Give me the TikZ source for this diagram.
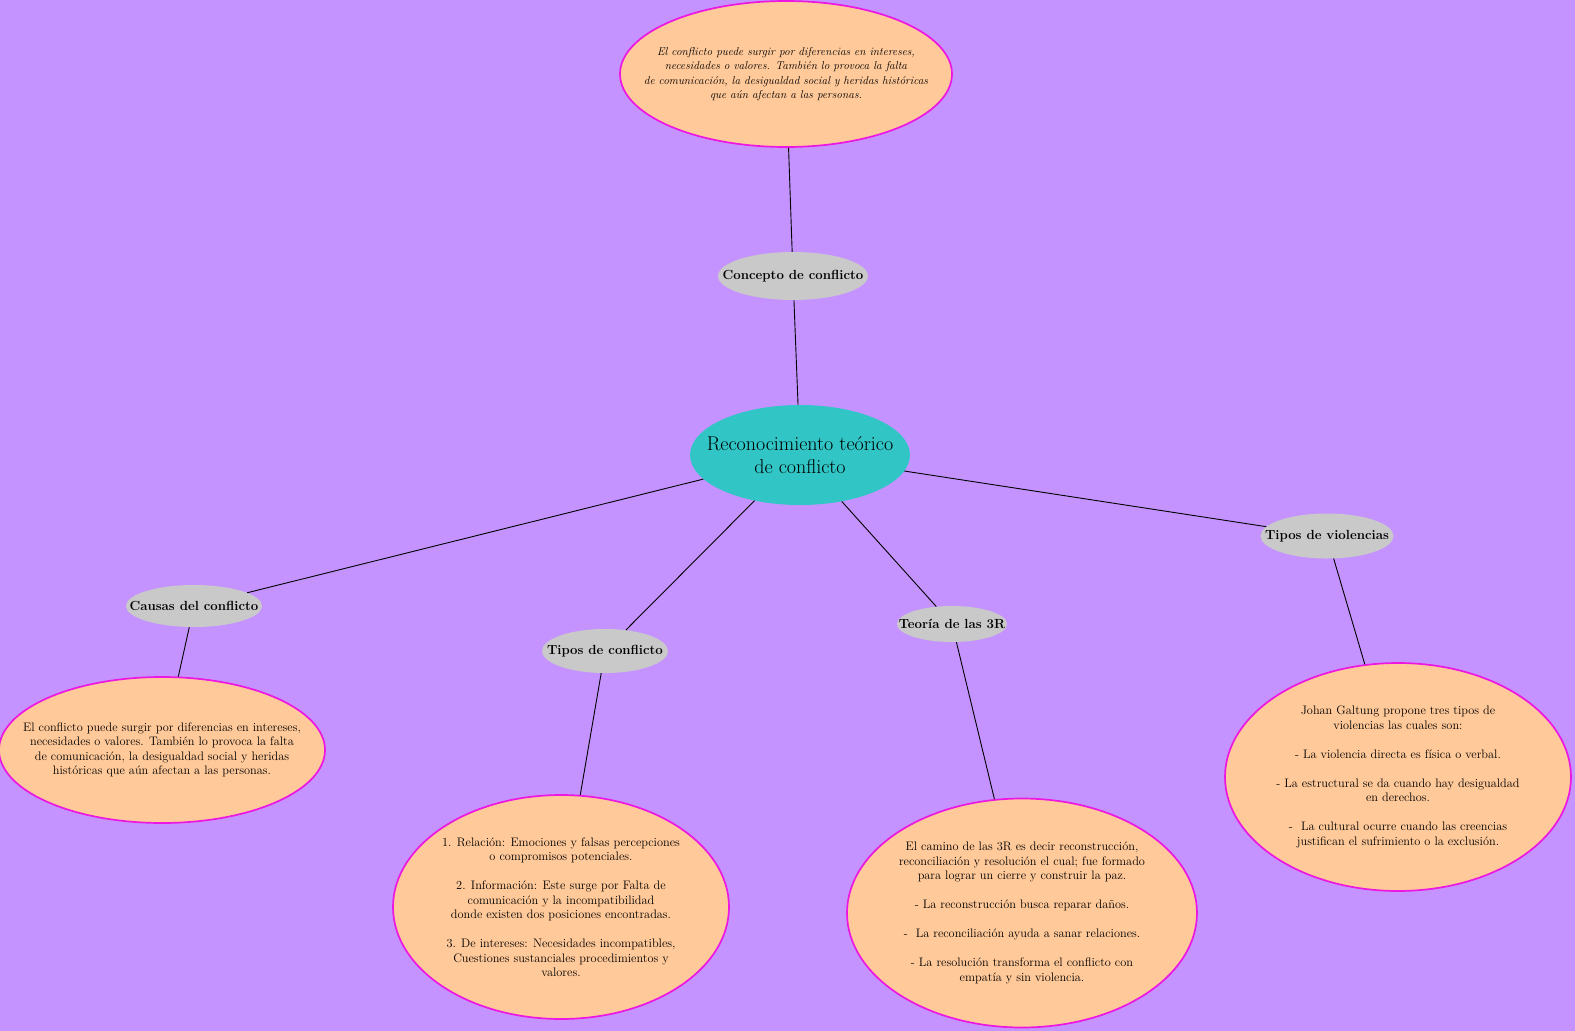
\documentclass[tikz,border=0pt]{standalone}
\usetikzlibrary{shapes.geometric,positioning}
\definecolor{MapViolet}{RGB}{197,147,255}
\definecolor{HubTeal}{RGB}{49,197,197}
\definecolor{TagGrey}{RGB}{201,201,201}
\definecolor{NotePeach}{RGB}{255,201,153}
\definecolor{RimMagenta}{RGB}{236,24,226}

\begin{document}
\begin{tikzpicture}[
  x=1pt, y=-1pt,
  link/.style={line width=0.9pt, draw=black},
  hub/.style={ellipse, fill=HubTeal, inner xsep=-16pt, inner ysep=0pt,
              align=center, minimum width=220pt, minimum height=100pt,
              font=\fontsize{20}{22.5}\selectfont},
  tag/.style={ellipse, fill=TagGrey, inner xsep=-20pt, inner ysep=0pt,
              align=center, font=\fontsize{13.2}{15}\selectfont\bfseries},
  bubble/.style={ellipse, fill=NotePeach, draw=RimMagenta,
                 line width=1.7pt, inner sep=0pt},
  note/.style={align=center, inner sep=0pt,
               font=\fontsize{12.3}{14.5}\selectfont}
]

% Canvas.
\fill[MapViolet] (0,0) rectangle (1575,1031);
\useasboundingbox (0,0) rectangle (1575,1031);

% Central topic and its branch tags.
\node[hub] (hub) at (800,455) {Reconocimiento teórico\\de conflicto};
\node[tag, minimum width=150pt, minimum height=48pt] (concepto) at (793,276) {Concepto de conflicto};
\node[tag, minimum width=136pt, minimum height=42pt] (causas) at (194,606) {Causas del conflicto};
\node[tag, minimum width=126pt, minimum height=44pt] (tipos) at (605,651) {Tipos de conflicto};
\node[tag, minimum width=110pt, minimum height=36pt] (teoria) at (952,624) {Teoría de las 3R};
\node[tag, minimum width=133pt, minimum height=45pt] (violencias) at (1327,536) {Tipos de violencias};

% Explanation bubbles (shape first, text laid over it).
\node[bubble, minimum width=332pt, minimum height=146pt] (conceptobox) at (786,74) {};
\node[note, font=\fontsize{11.35}{14.5}\selectfont\itshape] (conceptotxt) at (conceptobox)
  {El conflicto puede surgir por diferencias en intereses,\\
   necesidades o valores. También lo provoca la falta\\
   de comunicación, la desigualdad social y heridas históricas\\
   que aún afectan a las personas.};

\node[bubble, minimum width=326pt, minimum height=146pt] (causasbox) at (162,750) {};
\node[note] (causastxt) at (causasbox)
  {El conflicto puede surgir por diferencias en intereses,\\
   necesidades o valores. También lo provoca la falta\\
   de comunicación, la desigualdad social y heridas\\
   históricas que aún afectan a las personas.};

\node[bubble, minimum width=336pt, minimum height=224pt] (tiposbox) at (561,907) {};
\node[note] (tipostxt) at (tiposbox)
  {1. Relación: Emociones y falsas percepciones\\
   o compromisos potenciales.\\[14.5pt]
   2. Información: Este surge por Falta de\\
   comunicación y la incompatibilidad\\
   donde existen dos posiciones encontradas.\\[14.5pt]
   3. De intereses: Necesidades incompatibles,\\
   Cuestiones sustanciales procedimientos y\\
   valores.};

\node[bubble, minimum width=350pt, minimum height=229pt] (teoriabox) at (1022,913) {};
\node[note] (teoriatxt) at (teoriabox)
  {El camino de las 3R es decir reconstrucción,\\
   reconciliación y resolución el cual; fue formado\\
   para lograr un cierre y construir la paz.\\[14.5pt]
   - La reconstrucción busca reparar daños.\\[14.5pt]
   -\ \ La reconciliación ayuda a sanar relaciones.\\[14.5pt]
   - La resolución transforma el conflicto con\\
   empatía y sin violencia.};

\node[bubble, minimum width=346pt, minimum height=228pt] (violenciasbox) at (1398,777) {};
\node[note] (violenciastxt) at (violenciasbox)
  {Johan Galtung propone tres tipos de\\
   violencias las cuales son:\\[14.5pt]
   - La violencia directa es física o verbal.\\[14.5pt]
   - La estructural se da cuando hay desigualdad\\
   en derechos.\\[14.5pt]
   -\ \ La cultural ocurre cuando las creencias\\
   justifican el sufrimiento o la exclusión.};

% Connectors.
\draw[link] (hub) -- (concepto);
\draw[link] (concepto) -- (conceptobox);
\draw[link] (hub) -- (causas);
\draw[link] (causas) -- (causasbox);
\draw[link] (hub) -- (tipos);
\draw[link] (tipos) -- (tiposbox);
\draw[link] (hub) -- (teoria);
\draw[link] (teoria) -- (teoriabox);
\draw[link] (hub) -- (violencias);
\draw[link] (violencias) -- (violenciasbox);

\end{tikzpicture}
\end{document}
